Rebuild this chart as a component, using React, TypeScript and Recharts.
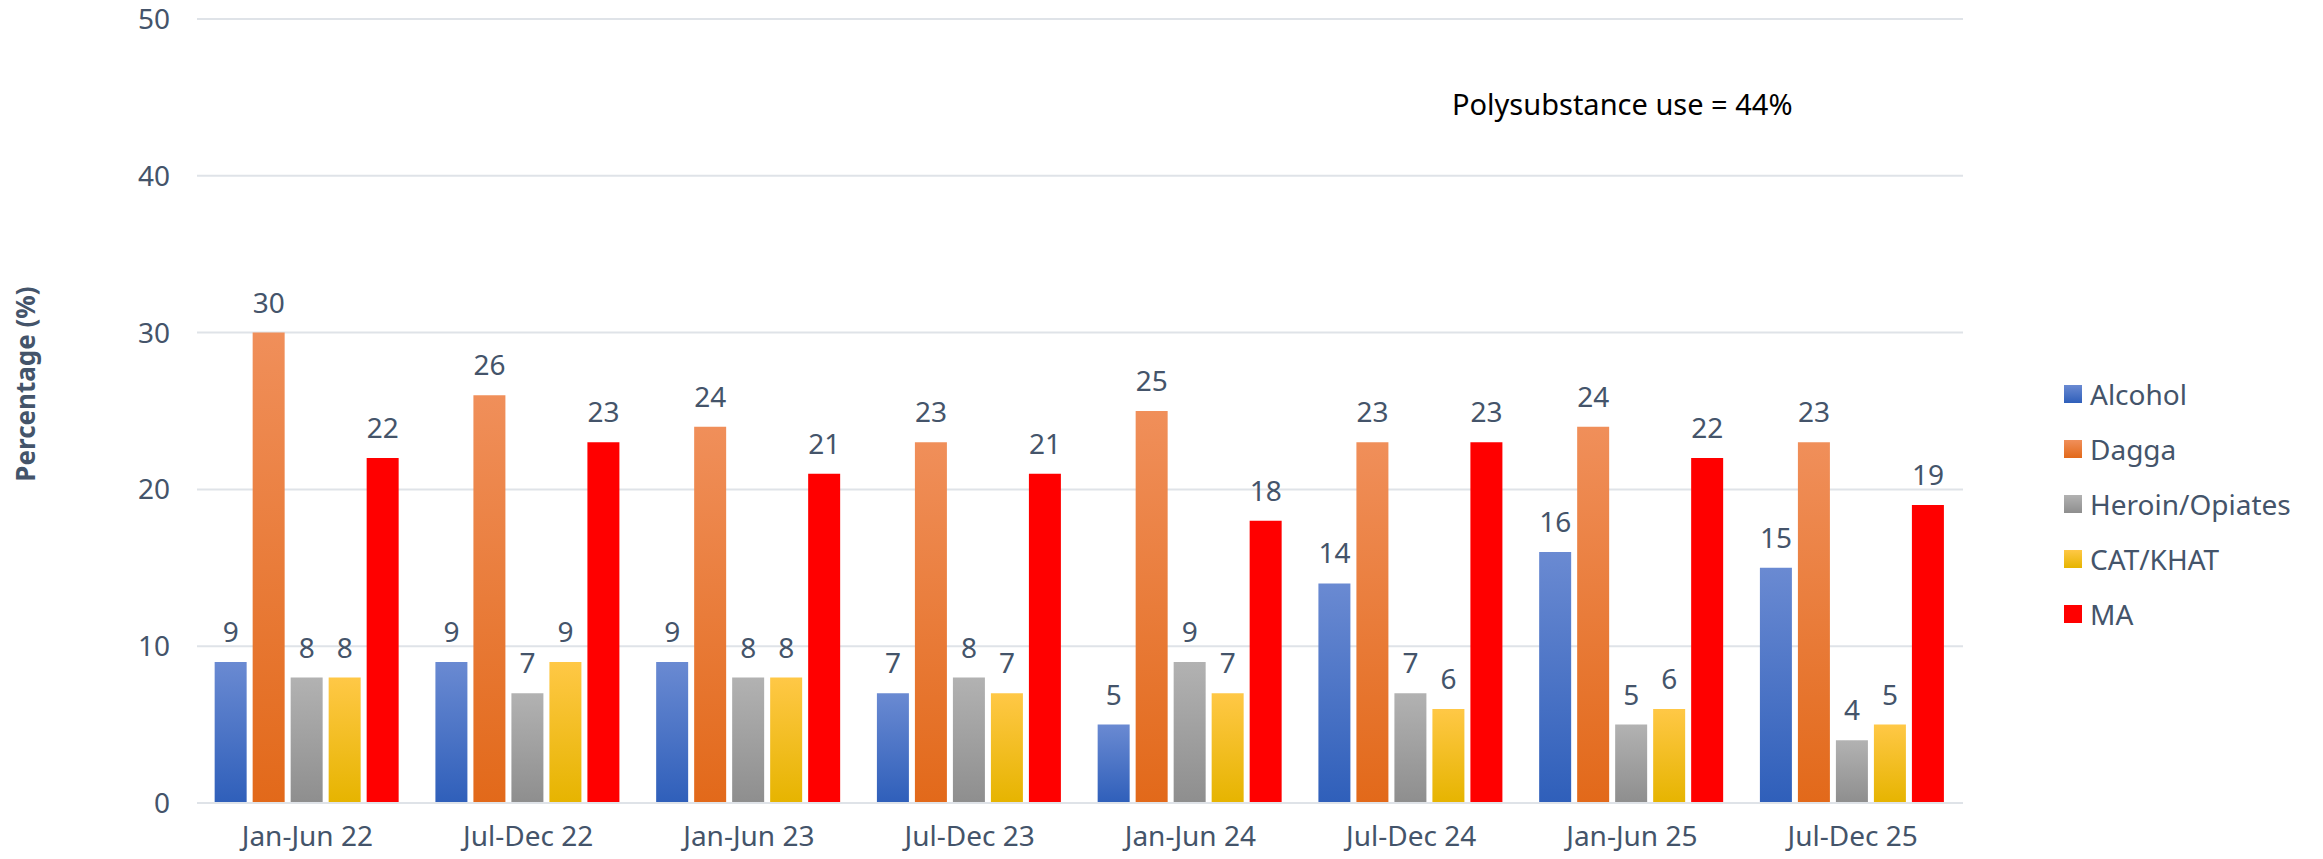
import { BarChart, Bar, XAxis, YAxis, CartesianGrid, Legend, LabelList } from 'recharts'

// Half-year periods
const periods = ['Jan-Jun 22', 'Jul-Dec 22', 'Jan-Jun 23', 'Jul-Dec 23', 'Jan-Jun 24', 'Jul-Dec 24', 'Jan-Jun 25', 'Jul-Dec 25']

// Percentage of patients per primary substance
const alcohol = [9, 9, 9, 7, 5, 14, 16, 15]
const dagga = [30, 26, 24, 23, 25, 23, 24, 23]
const heroin = [8, 7, 8, 8, 9, 7, 5, 4]
const catKhat = [8, 9, 8, 7, 7, 6, 6, 5]
const ma = [22, 23, 21, 21, 18, 23, 22, 19]

const yTicks = [0, 10, 20, 30, 40, 50]

const data = periods.map((period, i) => ({
  period,
  alcohol: alcohol[i],
  dagga: dagga[i],
  heroin: heroin[i],
  cat: catKhat[i],
  ma: ma[i],
}))

const series = [
  { key: 'alcohol', name: 'Alcohol', top: '#6A8AD2', bottom: '#2F5FBA' },
  { key: 'dagga', name: 'Dagga', top: '#F08F5A', bottom: '#E2691A' },
  { key: 'heroin', name: 'Heroin/Opiates', top: '#B2B2B2', bottom: '#8E8E8E' },
  { key: 'cat', name: 'CAT/KHAT', top: '#FFC846', bottom: '#E6B400' },
  { key: 'ma', name: 'MA', top: '#FF0000', bottom: '#FF0000' },
]

const textColor = '#44546A'
const font = '"Noto Sans", sans-serif'

const LegendList = () => (
  <div style={{ fontFamily: font, fontSize: 28, color: textColor }}>
    {series.map((s) => (
      <div key={s.key} style={{ display: 'flex', alignItems: 'center', height: 55 }}>
        <div
          style={{
            width: 18,
            height: 18,
            marginRight: 8,
            background: `linear-gradient(${s.top}, ${s.bottom})`,
          }}
        />
        <span>{s.name}</span>
      </div>
    ))}
  </div>
)

export default function App() {
  return (
    <div style={{ position: 'fixed', left: 0, top: 0, width: 2323, height: 859, background: '#fff' }}>
      <BarChart
        width={2323}
        height={859}
        data={data}
        margin={{ top: 19, right: 110, bottom: 0, left: 0 }}
        barCategoryGap="8%"
        barGap={6}
      >
        <defs>
          {series.map((s) => (
            <linearGradient key={s.key} id={`grad-${s.key}`} x1="0" y1="0" x2="0" y2="1">
              <stop offset="0%" stopColor={s.top} />
              <stop offset="100%" stopColor={s.bottom} />
            </linearGradient>
          ))}
        </defs>
        <CartesianGrid vertical={false} stroke="#DFE3E8" strokeWidth={2} />
        <XAxis
          dataKey="period"
          height={56}
          tickSize={0}
          tickMargin={23}
          axisLine={{ stroke: '#DFE3E8', strokeWidth: 2 }}
          tick={{ fill: textColor, fontSize: 28, fontFamily: font }}
        />
        <YAxis
          width={197}
          domain={[0, 50]}
          ticks={yTicks}
          tickSize={0}
          tickMargin={27}
          axisLine={false}
          tick={{ fill: textColor, fontSize: 28, fontFamily: font }}
          label={{
            value: 'Percentage (%)',
            angle: -90,
            position: 'center',
            dx: -73,
            dy: -27,
            fill: textColor,
            fontSize: 26,
            fontWeight: 'bold',
            fontFamily: font,
          }}
        />
        <Legend
          layout="horizontal"
          verticalAlign="middle"
          align="right"
          content={<LegendList />}
          wrapperStyle={{ left: 2064, top: 366, width: 250 }}
        />
        {series.map((s) => (
          <Bar key={s.key} dataKey={s.key} name={s.name} fill={`url(#grad-${s.key})`} isAnimationActive={false}>
            <LabelList dataKey={s.key} position="top" offset={20} fill={textColor} fontSize={28} fontFamily={font} />
          </Bar>
        ))}
      </BarChart>
      <div
        style={{
          position: 'absolute',
          left: 1452,
          top: 84,
          fontFamily: font,
          fontSize: 29,
          color: '#000',
          whiteSpace: 'nowrap',
        }}
      >
        Polysubstance use = 44%
      </div>
    </div>
  )
}
